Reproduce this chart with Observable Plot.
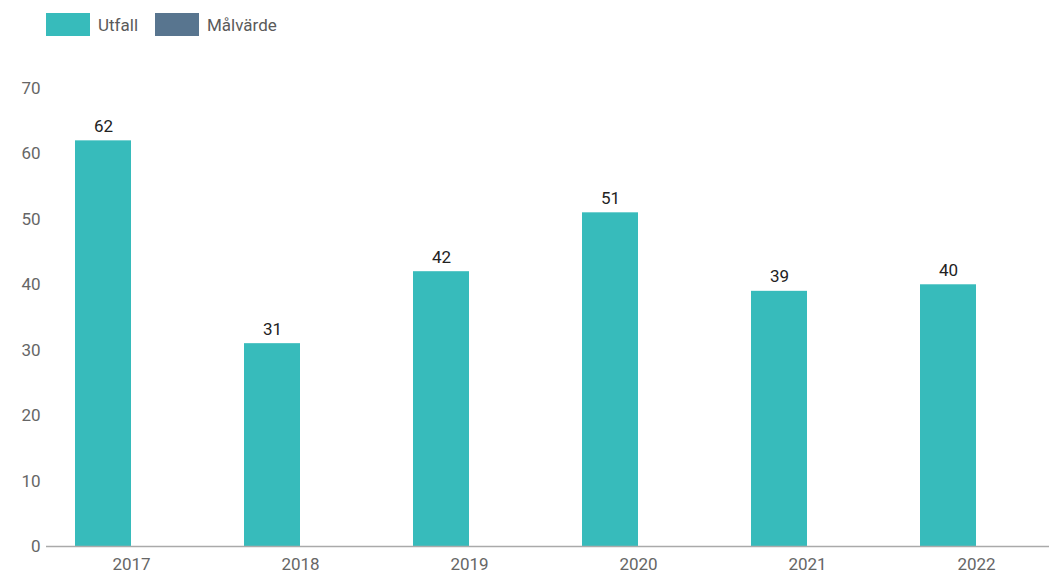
<!DOCTYPE html>
<html>
<head>
<meta charset="utf-8">
<script src="https://cdn.jsdelivr.net/npm/d3@7"></script>
<script src="https://cdn.jsdelivr.net/npm/@observablehq/plot@0.6"></script>
<style>
  html, body { margin: 0; padding: 0; background: #fff; overflow: hidden; width: 1049px; height: 572px; }
  body { font-family: Roboto, "Noto Sans", sans-serif; }
  #legend { position: relative; height: 50px; }
  .item { position: absolute; top: 13px; display: flex; align-items: center; font-size: 17px; color: #5a5a5a; }
  .sw { width: 44px; height: 23px; margin-right: 8px; box-sizing: border-box; }
  #chart svg { display: block; overflow: visible; }
</style>
</head>
<body>
<div id="legend"></div>
<div id="chart"></div>
<script>
const years = ["2017", "2018", "2019", "2020", "2021", "2022"];
const utfall = [62, 31, 42, 51, 39, 40];
const series = ["Utfall", "Målvärde"];
const colors = ["#37bbbb", "#58758f"];
const yTicks = [0, 10, 20, 30, 40, 50, 60, 70];

const data = years.map((y, i) => ({year: y, value: utfall[i]}));

// legend
const legend = document.getElementById("legend");
const lefts = [46, 155];
series.forEach((s, i) => {
  const el = document.createElement("div");
  el.className = "item";
  el.style.left = lefts[i] + "px";
  el.innerHTML = `<div class="sw" style="background:${colors[i]}"></div><span>${s}</span>`;
  legend.appendChild(el);
});

const chart = Plot.plot({
  width: 1049,
  height: 522,
  marginTop: 38,
  marginBottom: 26,
  marginLeft: 46,
  marginRight: 0,
  style: {fontFamily: "Roboto, 'Noto Sans', sans-serif", fontSize: "17px", color: "#666", background: "#fff"},
  x: {domain: years, range: [46, 1060], paddingInner: 0.669, paddingOuter: 0.331, label: null, tickSize: 0, tickPadding: 11},
  y: {domain: [0, 70], ticks: yTicks, label: null, tickSize: 0, tickPadding: 6},
  marks: [
    Plot.barY(data, {x: "year", y: "value", fill: colors[0], dx: -28}),
    Plot.text(data, {x: "year", y: "value", text: d => String(d.value), dx: -28, dy: -9, lineAnchor: "bottom", fill: "#222", fontSize: 17}),
    Plot.ruleY([0], {stroke: "#aaa", strokeWidth: 1.5})
  ]
});
document.getElementById("chart").appendChild(chart);
</script>
</body>
</html>
